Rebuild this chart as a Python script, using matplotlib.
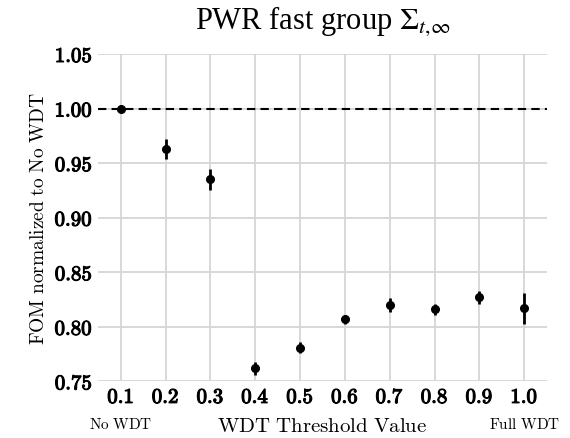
import matplotlib
matplotlib.use("Agg")
import matplotlib.pyplot as plt
import matplotlib.patheffects as pe

# WDT threshold values and normalized FOM
thresholds = [0.1, 0.2, 0.3, 0.4, 0.5, 0.6, 0.7, 0.8, 0.9, 1.0]
fom_norm = [1.000, 0.963, 0.935, 0.762, 0.781, 0.807, 0.820, 0.816, 0.827, 0.817]
fom_err = [0.000, 0.009, 0.010, 0.006, 0.005, 0.004, 0.006, 0.005, 0.006, 0.014]

xtick_labels = ['0.1', '0.2', '0.3', '0.4', '0.5', '0.6', '0.7', '0.8', '0.9', '1.0']
yticks = [0.75, 0.80, 0.85, 0.90, 0.95, 1.00, 1.05]

plt.rcParams['mathtext.fontset'] = 'cm'

fig = plt.figure(figsize=(5.7, 4.39), dpi=100)
ax = fig.add_axes([0.1725, 0.129, 0.959 - 0.1725, 0.8747 - 0.129])

ax.axhline(1.0, color='k', linestyle='--', linewidth=1.5, dashes=(4, 2.5), zorder=2)
ax.errorbar(thresholds, fom_norm, yerr=fom_err, fmt='o', color='k',
            markersize=5.5, elinewidth=2, capsize=0, zorder=3)

ax.set_xlim(0.05, 1.05)
ax.set_ylim(0.75, 1.05)
ax.set_xticks(thresholds)
ax.set_xticklabels([r'$\mathbf{' + t + '}$' for t in xtick_labels], fontsize=15)
ax.set_yticks(yticks)
ax.set_yticklabels([r'$\mathbf{%.2f}$' % v for v in yticks], fontsize=15)
ax.tick_params(length=0, pad=4)

# make the bold digits heavier, like cmbx
for lab in ax.get_xticklabels() + ax.get_yticklabels():
    lab.set_path_effects([pe.withStroke(linewidth=0.8, foreground='k')])

ax.grid(True, color='#d6d6d6', linewidth=1.3)
ax.set_axisbelow(True)
for s in ax.spines.values():
    s.set_visible(False)

ax.set_xlabel(r'$\mathrm{WDT\ Threshold\ Value}$', fontsize=15, labelpad=6)
ax.set_ylabel(r'$\mathrm{FOM\ normalized\ to\ No\ WDT}$', fontsize=14, labelpad=5)

trans = ax.get_xaxis_transform()
ax.text(0.1, -0.13, r'$\mathrm{No\ WDT}$', transform=trans, ha='center', va='center', fontsize=11)
ax.text(1.0, -0.13, r'$\mathrm{Full\ WDT}$', transform=trans, ha='center', va='center', fontsize=11)

ax.set_title(r'PWR fast group $\Sigma_{t,\!\infty}$', fontfamily='Liberation Serif',
             math_fontfamily='stix', fontsize=22, pad=19)

fig.savefig('out.png', dpi=100)
